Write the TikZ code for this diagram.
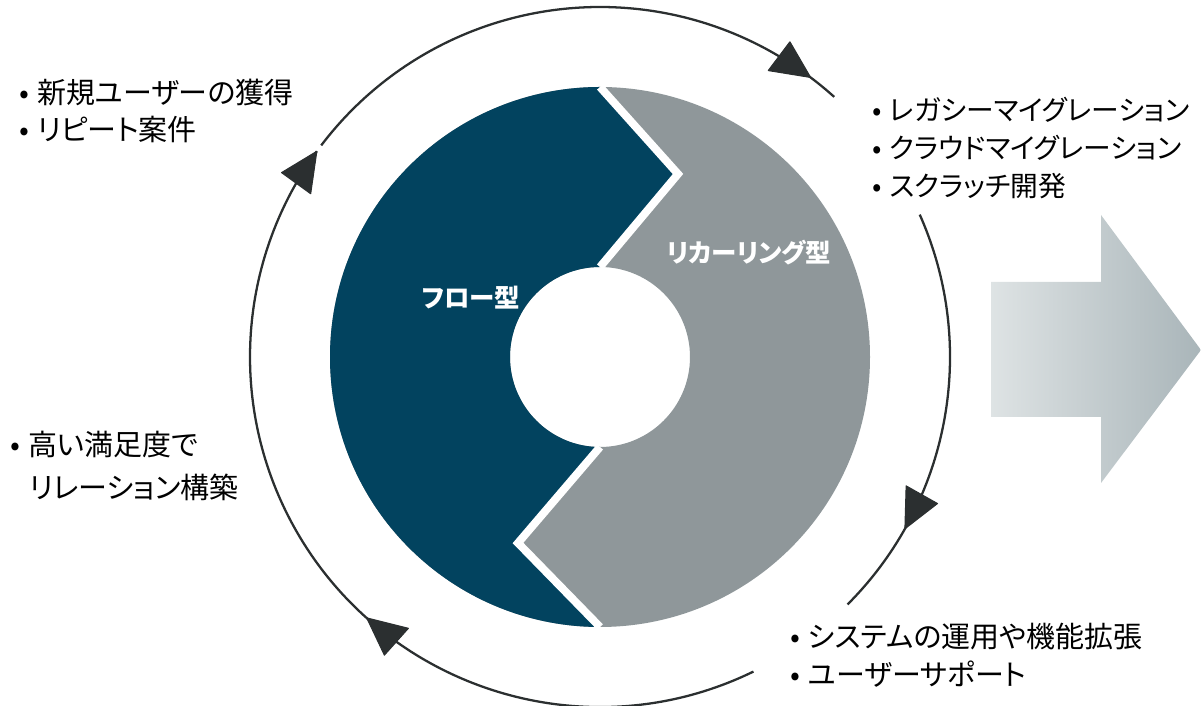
\documentclass[tikz,border=0pt]{standalone}
\usepackage{fontspec}
\newfontfamily\jp[RawFeature=+palt]{Noto Sans CJK JP}
\definecolor{flowblue}{HTML}{02435F}
\definecolor{recgray}{HTML}{8F979A}
\definecolor{tipdark}{HTML}{2B2F30}
\definecolor{arrowl}{HTML}{DEE3E4}
\definecolor{arrowr}{HTML}{A9B5B9}
\newcommand{\bul}{•\hspace{4.5pt}}
\tikzset{
  cyc/.style={line width=1.3pt, draw=tipdark},
  cyctip/.style={fill=tipdark, draw=tipdark, line width=0.6pt, line join=round},
  gap/.style={white, line width=4.5pt},
  item/.style={anchor=base west, inner sep=0pt, font=\jp\fontsize{16.5pt}{19pt}\selectfont},
  narrowitem/.style={item, font=\jp\fontsize{15.8pt}{19pt}\selectfont},
  ringlabel/.style={text=white, inner sep=0pt, font=\jp\bfseries\fontsize{14.5pt}{17pt}\selectfont}
}
\begin{document}
\begin{tikzpicture}[x=0.02cm, y=0.02cm]
    \useasboundingbox (0,0) rectangle (1201,706);
    % big arrow
    \shade[left color=arrowl, right color=arrowr] (991,424) -- (1101,424) -- (1101,491) -- (1201,356)
        -- (1101,223) -- (1101,289) -- (991,289) -- cycle;
    \begin{scope}[shift={(600,349)}]
        % ring
        \fill[recgray, even odd rule] (0,0) circle (270) (0,0) circle (90);
        \fill[flowblue] (0,270) arc (90:270:270) -- (-82,-186) -- (0,-90) arc (270:90:90) -- (78,183) -- cycle;
        \draw[gap] (0,270) -- (78,183) -- (0,90);
        \draw[gap] (0,-90) -- (-82,-186) -- (0,-270);
        % cycle
        \draw[cyc] (142.8:350) arc (142.8:48:350);
        \draw[cyc] (24:350) arc (24:-45:350);
        \draw[cyc] (-64:350) arc (-64:-216:350);
        \foreach \a in {53, -29.4, -131.8, 144} {
            \fill[cyctip, rotate=\a] (350,0) -- (366,38) -- (330,38) -- cycle;
        }
    \end{scope}
    \node[item] (newuser) at (19,602) {\bul 新規ユーザーの獲得};
    \node[item] (repeat) at (19,565) {\bul リピート案件};
    \node[narrowitem] (legacy) at (872,585) {\bul レガシーマイグレーション};
    \node[narrowitem] (cloud) at (872,547) {\bul クラウドマイグレーション};
    \node[narrowitem] (scratch) at (872,509) {\bul スクラッチ開発};
    \node[item] (trust) at (10,250) {\bul 高い満足度で};
    \node[item] (relation) at (29,207) {リレーション構築};
    \node[item] (operate) at (790,58) {\bul システムの運用や機能拡張};
    \node[item] (support) at (790,20) {\bul ユーザーサポート};
    \node[ringlabel] (flow) at (471,408) {フロー型};
    \node[ringlabel] (recurring) at (749,453) {リカーリング型};
\end{tikzpicture}
\end{document}
